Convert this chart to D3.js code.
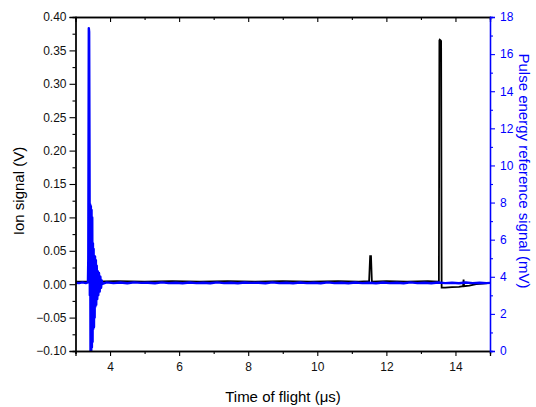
<!DOCTYPE html>
<html>
<head>
<meta charset="utf-8">
<script src="https://cdn.jsdelivr.net/npm/d3@7"></script>
<style>
  body { margin: 0; background: #fff; }
  text { font-family: "Liberation Sans", Arial, sans-serif; }
</style>
</head>
<body>
<div id="graph"></div>
<script>
// ion signal (V) vs time of flight (us)
const ionTime = [3.0, 3.5, 4.2, 5.0, 5.8, 6.6, 7.4, 8.2, 9.0, 9.8, 10.6, 11.2, 11.5, 11.53, 11.555, 11.58, 12.0, 12.6, 13.2, 13.52, 13.535, 13.545, 13.57, 13.585, 13.6, 13.7, 13.9, 14.1, 14.22, 14.235, 14.25, 14.4, 14.6, 14.8, 15.0];
const ionValue = [0.004, 0.004, 0.0045, 0.004, 0.0045, 0.004, 0.0045, 0.004, 0.0045, 0.004, 0.0045, 0.004, 0.0045, 0.042, 0.042, 0.004, 0.0045, 0.004, 0.0045, 0.004, 0.365, 0.366, 0.365, 0.364, -0.005, -0.005, -0.0045, -0.004, -0.003, 0.007, -0.003, -0.002, 0.0, 0.001, 0.002];

// pulse energy reference (mV) vs time of flight (us)
const refTime = [3.0, 3.1, 3.2, 3.3, 3.36, 3.37, 3.385, 3.395, 3.405, 3.415, 3.425, 3.435, 3.445, 3.455, 3.465, 3.475, 3.485, 3.495, 3.505, 3.515, 3.525, 3.535, 3.545, 3.555, 3.565, 3.575, 3.59, 3.6, 3.615, 3.63, 3.645, 3.66, 3.68, 3.7, 3.72, 3.74, 3.76, 3.78,
  3.9, 4.1, 4.3, 4.5, 4.7, 4.9, 5.1, 5.3, 5.5, 5.7, 5.9, 6.1, 6.3, 6.5, 6.7, 6.9, 7.1, 7.3, 7.5, 7.7, 7.9, 8.1, 8.3, 8.5, 8.7, 8.9, 9.1, 9.3, 9.5, 9.7, 9.9, 10.1, 10.3, 10.5, 10.7, 10.9, 11.1, 11.3, 11.5, 11.7, 11.9, 12.1, 12.3, 12.5, 12.7, 12.9, 13.1, 13.3, 13.5, 13.7, 13.9, 14.1, 14.3, 14.5, 14.7, 14.9, 15.0];
const refValue = [3.68, 3.66, 3.7, 3.66, 3.7, 5.0, 17.4, 17.2, 11.0, 3.0, 7.9, -0.5, 7.8, -0.8, 7.6, 0.2, 7.2, 0.5, 5.8, 1.2, 5.5, 1.3, 5.0, 1.8, 5.1, 2.4, 4.9, 2.5, 4.6, 2.8, 4.3, 3.0, 4.2, 3.2, 4.0, 3.4, 3.8, 3.62,
  3.7, 3.66, 3.69, 3.65, 3.7, 3.67, 3.68, 3.65, 3.7, 3.66, 3.68, 3.65, 3.69, 3.66, 3.68, 3.65, 3.7, 3.66, 3.68, 3.65, 3.69, 3.67, 3.68, 3.65, 3.7, 3.66, 3.68, 3.65, 3.69, 3.66, 3.68, 3.65, 3.7, 3.66, 3.68, 3.65, 3.69, 3.66, 3.68, 3.65, 3.69, 3.66, 3.68, 3.65, 3.7, 3.66, 3.68, 3.65, 3.69, 3.66, 3.68, 3.65, 3.69, 3.66, 3.68, 3.66, 3.67];

const xTicks = [4, 6, 8, 10, 12, 14];
const xMinor = [3, 5, 7, 9, 11, 13, 15];
const yTicks = [-0.10, -0.05, 0.00, 0.05, 0.10, 0.15, 0.20, 0.25, 0.30, 0.35, 0.40];
const y2Ticks = [0, 2, 4, 6, 8, 10, 12, 14, 16, 18];

const w = 536;
const h = 407;
const margin = { top: 17, right: 46, bottom: 56, left: 75.5 };

const xScale = d3.scaleLinear().domain([3, 15]).range([margin.left, w - margin.right]);
const yScale = d3.scaleLinear().domain([-0.10, 0.40]).range([h - margin.bottom, margin.top]);
const y2Scale = d3.scaleLinear().domain([0, 18]).range([h - margin.bottom, margin.top]);

const svg = d3.select("#graph").append("svg").attr("width", w).attr("height", h);

svg.append("clipPath").attr("id", "clip")
  .append("rect")
  .attr("x", margin.left).attr("y", margin.top)
  .attr("width", w - margin.left - margin.right)
  .attr("height", h - margin.top - margin.bottom);

const plot = svg.append("g").attr("clip-path", "url(#clip)");

const ionLine = d3.line().x((d, i) => xScale(ionTime[i])).y((d) => yScale(d));
const refLine = d3.line().x((d, i) => xScale(refTime[i])).y((d) => y2Scale(d));

plot.append("path").datum(ionValue).attr("d", ionLine)
  .attr("fill", "none").attr("stroke", "#000").attr("stroke-width", 1.8);

plot.append("path").datum(refValue).attr("d", refLine)
  .attr("fill", "none").attr("stroke", "#0000ff").attr("stroke-width", 2.4)
  .attr("stroke-linejoin", "round");

// axes
function minorTicks(a, b, step) {
  const out = [];
  for (let v = a; v <= b + 1e-9; v += step) out.push(+v.toFixed(4));
  return out;
}

const bottomY = h - margin.bottom;

svg.append("g").attr("transform", `translate(0, ${bottomY})`)
  .call(d3.axisBottom(xScale).tickValues(xMinor).tickSize(3).tickFormat(""));
svg.append("g").attr("id", "x-axis").attr("transform", `translate(0, ${bottomY})`)
  .call(d3.axisBottom(xScale).tickValues(xTicks).tickSize(5).tickPadding(6).tickFormat(d3.format("d")));

svg.append("g").attr("transform", `translate(0, ${margin.top})`)
  .call(d3.axisBottom(xScale).tickValues(xMinor).tickSize(3).tickFormat(""));
svg.append("g").attr("transform", `translate(0, ${margin.top})`)
  .call(d3.axisBottom(xScale).tickValues(xTicks).tickSize(5).tickFormat(""));

svg.append("g").attr("transform", `translate(${margin.left}, 0)`)
  .call(d3.axisLeft(yScale).tickValues(minorTicks(-0.075, 0.375, 0.05)).tickSize(3).tickFormat(""));
svg.append("g").attr("id", "y-axis").attr("transform", `translate(${margin.left}, 0)`)
  .call(d3.axisLeft(yScale).tickValues(yTicks).tickSize(6).tickPadding(3).tickFormat(d3.format(".2f")));

const right = svg.append("g").attr("class", "y2").attr("transform", `translate(${w - margin.right}, 0)`);
right.append("g").call(d3.axisRight(y2Scale).tickValues(minorTicks(1, 17, 2)).tickSize(3).tickFormat(""));
right.append("g").call(d3.axisRight(y2Scale).tickValues(y2Ticks).tickSize(5).tickPadding(5).tickFormat(d3.format("d")));

svg.selectAll(".domain").attr("stroke", "#000").attr("stroke-width", 1.3);
svg.selectAll(".tick line").attr("stroke", "#000").attr("stroke-width", 1.1);
svg.selectAll(".tick text").attr("font-size", 12).attr("fill", "#111")
  .style("font-family", "'Liberation Sans', Arial, sans-serif");
right.selectAll(".domain").attr("stroke", "#0000ff");
right.selectAll(".tick line").attr("stroke", "#0000ff");
right.selectAll(".tick text").attr("fill", "#0000ff");

// titles
svg.append("text")
  .attr("transform", "translate(24, 191) rotate(-90)")
  .attr("text-anchor", "middle")
  .attr("font-size", 15)
  .text("Ion signal (V)");

svg.append("text")
  .attr("transform", "translate(519, 171) rotate(90)")
  .attr("text-anchor", "middle")
  .attr("font-size", 15)
  .attr("fill", "#0000ff")
  .text("Pulse energy reference signal (mV)");

svg.append("text")
  .attr("x", 283).attr("y", 402)
  .attr("text-anchor", "middle")
  .attr("font-size", 15)
  .text("Time of flight (\u03bcs)");
</script>
</body>
</html>
